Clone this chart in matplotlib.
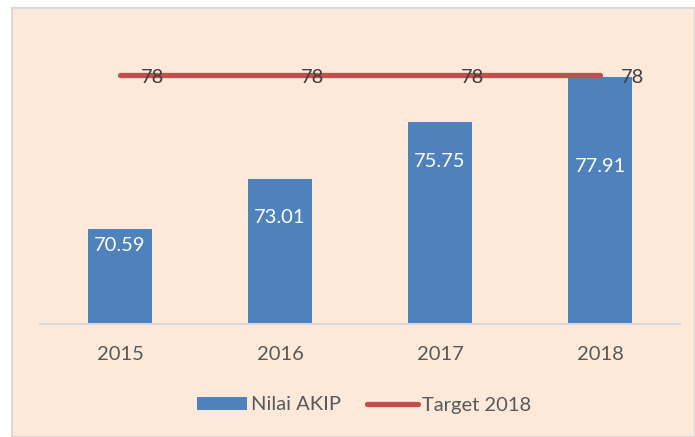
import matplotlib
matplotlib.use("Agg")
import matplotlib.pyplot as plt
import numpy as np
from matplotlib.patches import Rectangle

# data
years = ["2015", "2016", "2017", "2018"]
nilai_akip = [70.59, 73.01, 75.75, 77.91]
target_2018 = [78, 78, 78, 78]

plt.rcParams['font.family'] = ['Lato', 'DejaVu Sans']

bar_color = '#4F81BD'
line_color = '#C0504D'
bg_color = '#FCE9DA'
fs = 14.5

fig = plt.figure(figsize=(6.95, 4.37), dpi=100)
fig.patch.set_facecolor('white')

# chart area background with thin grey border (drawn below the axes)
fig.patches.append(Rectangle((12 / 695, 0), 683 / 695, 1 - 8 / 437,
                             transform=fig.transFigure, facecolor=bg_color,
                             edgecolor='#D9D9D9', linewidth=1.5, zorder=-10))

ax = fig.add_axes([40 / 695, 1 - 324 / 437, 640 / 695, (324 - 33.5) / 437])
ax.set_facecolor('none')

x = np.arange(len(years))
bars = ax.bar(x, nilai_akip, width=0.4, color=bar_color, label='Nilai AKIP', zorder=2)
line, = ax.plot(x, target_2018, color=line_color, linewidth=3.8, solid_capstyle='round',
                label='Target 2018', zorder=3)

ax.set_ylim(66, 80)
ax.set_xlim(-0.5, len(years) - 0.5)

# value labels inside bars (offsets below bar top, in pixels -> points)
below_top = [16.5, 39, 40, 90]
for xi, v, off in zip(x, nilai_akip, below_top):
    ax.annotate(f"{v:.2f}", (xi, v), xytext=(0, -off * 0.72), textcoords='offset points',
                ha='center', va='center', color='white', fontsize=fs, zorder=4)

# target labels to the right of points
for xi, v in zip(x, target_2018):
    ax.annotate(f"{v}", (xi, v), xytext=(15, -2), textcoords='offset points',
                ha='left', va='center', color='#404040', fontsize=fs, zorder=4)

ax.set_xticks(x)
ax.set_xticklabels(years, fontsize=fs, color='#595959')
ax.tick_params(axis='x', length=0, pad=16)
ax.set_yticks([])
for s in ['top', 'right', 'left']:
    ax.spines[s].set_visible(False)
ax.spines['bottom'].set_color('#D9D9D9')
ax.spines['bottom'].set_linewidth(1.5)

leg = fig.legend([bars, line], ['Nilai AKIP', 'Target 2018'], loc='center',
                 bbox_to_anchor=(364 / 695, 1 - 405 / 437), ncol=2,
                 frameon=False, fontsize=fs, handlelength=2.5, handleheight=0.65,
                 handletextpad=0.2, columnspacing=1.3)
for t in leg.get_texts():
    t.set_color('#595959')

fig.savefig('out.png', dpi=100, facecolor=fig.get_facecolor())
